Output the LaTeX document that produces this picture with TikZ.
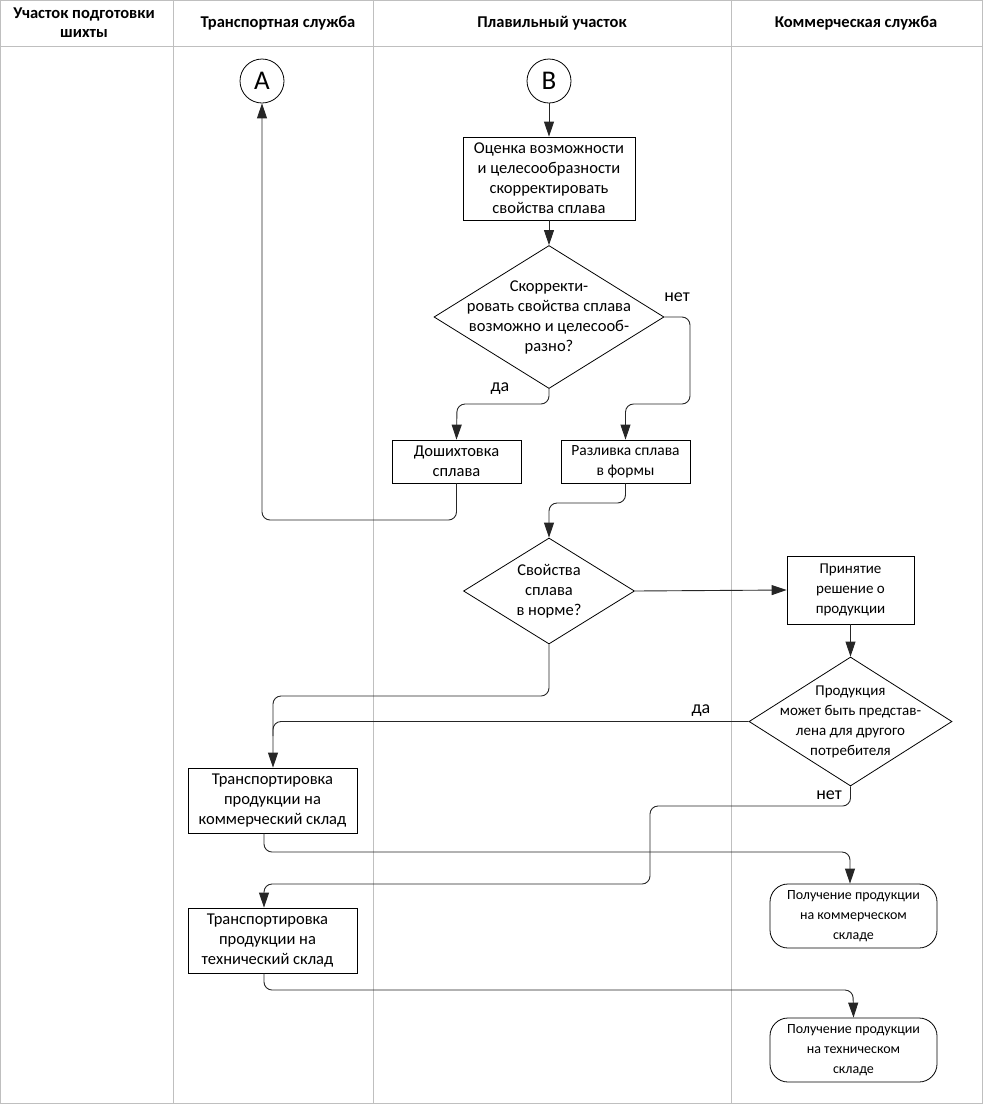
\documentclass[tikz,border=0pt]{standalone}
\usepackage{fontspec}
\setmainfont{Carlito}
\usetikzlibrary{shapes.geometric,arrows.meta,calc}
\begin{document}
\begin{tikzpicture}[x=1pt,y=-1pt,
  lane/.style={draw=black!25,line width=0.8pt},
  hdr/.style={font=\fontsize{16.5}{19}\selectfont\bfseries,align=center,inner sep=0pt},
  txt/.style={font=\fontsize{16.5}{20}\selectfont,align=center,inner sep=0pt},
  mtxt/.style={font=\fontsize{15.5}{20}\selectfont,align=center,inner sep=0pt},
  stxt/.style={font=\fontsize{15}{20}\selectfont,align=center,inner sep=0pt},
  ttxt/.style={font=\fontsize{14}{20}\selectfont,align=center,inner sep=0pt},
  proc/.style={draw=black,line width=0.8pt,inner sep=0pt},
  dia/.style={draw=black,line width=0.8pt,diamond,inner sep=0pt},
  term/.style={draw=black,line width=0.8pt,rounded corners=18pt,inner sep=0pt},
  conn/.style={draw=black,line width=0.8pt,circle,minimum size=44pt,inner sep=0pt,font=\fontsize{27}{27}\selectfont},
  arr/.style={draw=black!85,line width=0.9pt,rounded corners=8pt,-{Triangle[length=15pt,width=10pt]}},
  lnk/.style={draw=black!85,line width=0.9pt,rounded corners=8pt},
  lbl/.style={font=\fontsize{18}{18}\selectfont,inner sep=0pt}
]
\useasboundingbox (0,0) rectangle (983,1104);
% lanes
\draw[lane] (0.5,0.5) rectangle (982.5,1103.5);
\draw[lane] (0,46) -- (983,46);
\draw[lane] (173,0) -- (173,1104);
\draw[lane] (373,0) -- (373,1104);
\draw[lane] (731,0) -- (731,1104);
\node[hdr] (h1) at (84,23) {Участок подготовки\\шихты};
\node[hdr] (h2) at (278,23) {Транспортная служба};
\node[hdr] (h3) at (552,23) {Плавильный участок};
\node[hdr] (h4) at (856,23) {Коммерческая служба};
% nodes
\node[conn] (A) at (262,81) {A};
\node[conn] (B) at (549,81) {B};
\node[proc,minimum width=172pt,minimum height=83pt] (box1) at (549,178.5) {};
\node[txt] (box1t) at (box1) {Оценка возможности\\и целесообразности\\скорректировать\\свойства сплава};
\node[dia,minimum width=230pt,minimum height=143pt] (d1) at (549,317) {};
\node[txt] (d1t) at (d1) {Скорректи-\\ровать свойства сплава\\возможно и целесооб-\\разно?};
\node[proc,minimum width=129pt,minimum height=43pt] (dosh) at (456.5,461.5) {};
\node[txt] (dosht) at (dosh) {Дошихтовка\\сплава};
\node[proc,minimum width=129pt,minimum height=43pt] (razl) at (625.5,461.5) {};
\node[mtxt] (razlt) at (razl) {Разливка сплава\\в формы};
\node[dia,minimum width=171pt,minimum height=106pt] (d2) at (549,591) {};
\node[txt] (d2t) at (d2) {Свойства\\сплава\\в норме?};
\node[proc,minimum width=127pt,minimum height=68pt] (prin) at (850.5,590) {};
\node[stxt] (print) at (prin) {Принятие\\решение о\\продукции};
\node[dia,minimum width=203pt,minimum height=129pt] (d3) at (850.5,721.5) {};
\node[stxt] (d3t) at (d3) {Продукция\\может быть представ-\\лена для другого\\потребителя};
\node[proc,minimum width=169pt,minimum height=65pt] (tr1) at (272.5,800.5) {};
\node[txt] (tr1t) at (tr1) {Транспортировка\\продукции на\\коммерческий склад};
\node[proc,minimum width=169pt,minimum height=65pt] (tr2) at (272.5,940.5) {};
\node[txt] (tr2t) at ($(tr2)+(-5,0)$) {Транспортировка\\продукции на\\технический склад};
\node[term,minimum width=167pt,minimum height=64pt] (pol1) at (853.5,916) {};
\node[ttxt] (pol1t) at (pol1) {Получение продукции\\на коммерческом\\складе};
\node[term,minimum width=167pt,minimum height=64pt] (pol2) at (853.5,1050) {};
\node[ttxt] (pol2t) at (pol2) {Получение продукции\\на техническом\\складе};
% coordinates
\coordinate (c1) at (690,404);
\coordinate (c2) at (457,404);
\coordinate (c3) at (262,520);
\coordinate (c4) at (549,503);
\coordinate (c5) at (273,696);
\coordinate (c6) at (650,806);
\coordinate (c7) at (264,884);
\coordinate (c8) at (850,852);
\coordinate (c9) at (853,990);
% connectors
\draw[arr] (B) -- (box1);
\draw[arr] (box1) -- (d1);
\draw[arr] (d1.east) -| (c1) -| (razl.north);
\draw[arr] (d1.south) |- (c2) -- (dosh.north);
\draw[arr] (dosh.south) |- (c3) -- (A.south);
\draw[arr] (razl.south) |- (c4) -- (d2.north);
\draw[arr] (d2.east) -- (prin.west);
\draw[arr] (prin.south) -- (d3.north);
\draw[arr] (d2.south) |- (c5) -- (c5 |- tr1.north);
\draw[lnk] (d3.west) -| ($(c5)+(0,40)$);
\draw[arr] (d3.south) |- (c6) |- (c7) -- (c7 |- tr2.north);
\draw[arr] (c7 |- tr1.south) |- (c8) -- (c8 |- pol1.north);
\draw[arr] (c7 |- tr2.south) |- (c9) -- (pol2.north);
% labels
\node[lbl] (l1) at (677,297) {нет};
\node[lbl] (l2) at (500,389) {да};
\node[lbl] (l3) at (701,711) {да};
\node[lbl] (l4) at (829,795) {нет};
\end{tikzpicture}
\end{document}
